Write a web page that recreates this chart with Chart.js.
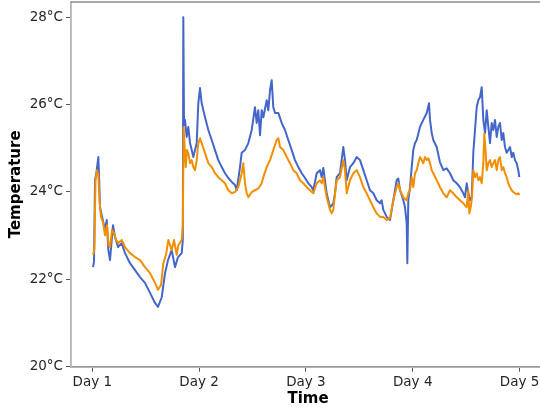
<!DOCTYPE html>
<html>
<head>
<meta charset="utf-8">
<script src="https://cdn.jsdelivr.net/npm/chart.js@4/dist/chart.umd.min.js"></script>
<style>
  html, body { margin: 0; padding: 0; background: #fff; }
  #wrap { width: 540px; height: 408px; overflow: hidden; position: relative; }
  #wrap canvas { position: absolute; left: 0; top: 0; }
</style>
</head>
<body>
<div id="wrap"><canvas id="chart" width="560" height="408"></canvas></div>
<script>
// Elapsed time in hours since the start of Day 1, with temperatures in °C
const blueHours = [0.16,0.38,0.61,0.94,1.35,1.51,1.73,2.11,2.47,2.85,3.24,3.60,3.98,4.36,4.65,5.10,5.78,6.61,7.35,8.47,9.60,10.72,11.84,12.97,14.09,14.76,15.60,16.34,17.01,17.84,18.58,19.26,20.09,20.34,20.45,20.61,20.83,21.21,21.57,21.96,22.34,22.70,23.08,23.46,23.82,24.20,24.58,25.33,26.07,26.83,27.57,28.31,29.08,29.82,30.56,31.33,32.07,32.45,33.19,33.57,34.31,35.06,35.82,36.56,36.94,37.30,37.69,38.07,38.43,39.19,39.55,39.93,40.31,40.67,41.06,41.80,42.56,43.30,44.04,44.81,45.55,46.29,47.06,47.80,48.54,49.30,49.66,50.43,51.17,51.55,51.91,52.67,53.03,53.42,54.16,54.54,54.92,55.66,56.40,56.79,57.17,57.91,58.65,59.42,60.16,60.90,61.66,62.40,63.15,63.91,64.65,65.03,65.39,66.16,66.90,67.64,68.40,68.76,69.15,69.89,70.27,70.65,70.79,71.01,71.39,71.78,72.13,72.52,72.90,73.64,74.38,75.15,75.66,75.89,76.27,76.63,77.39,78.13,78.88,79.64,80.38,81.12,81.89,82.63,83.37,83.75,84.13,84.49,84.88,85.26,85.62,86.00,86.38,86.74,87.12,87.51,87.69,87.87,88.25,88.63,89.00,89.37,89.75,90.11,90.49,90.88,91.24,91.62,92.00,92.36,92.74,93.12,93.48,93.87,94.25,94.61,94.99,95.37,95.73,95.96];
const blueTemps = [22.28,22.40,24.27,24.46,24.80,24.39,23.65,23.47,23.31,23.13,23.36,22.67,22.44,22.90,23.24,22.97,22.74,22.83,22.60,22.37,22.21,22.05,21.92,21.69,21.46,21.37,21.59,22.14,22.44,22.67,22.28,22.51,22.60,22.90,28.00,25.53,25.65,25.26,25.49,25.12,24.96,24.80,24.96,25.12,26.03,26.38,26.03,25.71,25.42,25.19,24.96,24.73,24.57,24.43,24.32,24.23,24.16,24.04,24.57,24.90,24.96,25.12,25.42,25.94,25.58,25.87,25.30,25.87,25.71,26.10,25.87,26.33,26.56,25.94,25.81,25.81,25.58,25.42,25.19,24.96,24.73,24.57,24.43,24.32,24.20,24.11,24.04,24.43,24.50,24.34,24.55,23.97,23.81,23.65,23.74,23.97,24.34,24.43,25.03,24.73,24.27,24.57,24.66,24.80,24.73,24.50,24.27,24.04,23.97,23.81,23.74,23.81,23.59,23.43,23.36,23.81,24.27,24.31,24.04,23.81,23.65,23.28,22.37,23.81,24.11,24.57,24.96,25.12,25.19,25.49,25.65,25.81,26.03,25.65,25.35,25.19,25.03,24.68,24.50,24.54,24.43,24.27,24.20,24.11,23.97,23.88,24.20,23.97,23.81,23.88,24.90,25.42,25.94,26.10,26.17,26.40,26.03,25.65,25.35,25.87,25.49,25.12,25.58,25.42,25.65,25.26,25.49,25.58,25.19,25.35,25.03,24.90,24.96,25.03,24.80,24.90,24.73,24.66,24.50,24.34];

const orangeHours = [0.16,0.45,0.72,1.06,1.35,1.62,1.96,2.40,2.85,3.30,3.64,3.98,4.43,4.88,5.33,5.84,6.61,7.35,8.47,9.60,10.72,11.84,12.97,14.09,14.76,15.44,15.96,16.56,17.08,17.84,18.36,18.97,19.33,20.09,20.34,20.52,20.99,21.28,21.57,21.96,22.34,22.70,23.08,23.46,23.82,24.20,24.58,25.33,26.07,26.83,27.57,28.31,29.08,29.82,30.56,31.33,32.07,32.81,33.57,33.93,34.31,34.70,35.06,35.82,36.56,37.30,38.07,38.43,39.19,39.93,40.67,41.44,41.80,42.18,42.92,43.69,44.43,45.17,45.93,46.67,47.42,48.18,48.92,49.66,50.43,51.17,51.55,51.91,52.67,53.42,53.80,54.16,54.54,54.92,55.66,56.40,56.79,57.17,57.91,58.65,59.42,60.16,60.90,61.66,62.40,63.15,63.91,64.65,65.39,66.16,66.90,67.64,68.40,68.76,69.15,69.89,70.65,71.01,71.39,71.78,72.13,72.52,72.90,73.26,73.64,74.02,74.38,74.76,75.15,75.51,75.89,76.27,76.63,77.39,78.13,78.88,79.64,80.38,81.12,81.89,82.63,83.37,84.13,84.49,84.72,85.04,85.33,85.62,86.00,86.38,86.74,87.12,87.51,87.87,88.09,88.40,88.63,89.00,89.37,89.75,90.11,90.49,90.88,91.24,91.62,92.00,92.36,92.74,93.12,93.48,93.87,94.25,94.61,94.99,95.37,95.73,95.96];
const orangeTemps = [22.56,22.67,24.27,24.50,24.39,23.81,23.43,23.31,23.01,23.24,22.78,22.74,23.13,23.06,22.90,22.83,22.90,22.74,22.60,22.51,22.44,22.28,22.14,21.92,21.76,21.87,22.37,22.56,22.90,22.67,22.90,22.56,22.78,22.90,23.24,25.48,24.57,24.96,24.89,24.66,24.73,24.57,24.50,24.73,25.12,25.23,25.12,24.89,24.66,24.57,24.43,24.34,24.27,24.20,24.04,23.97,24.00,24.11,24.43,24.66,24.20,23.97,23.88,24.00,24.04,24.08,24.20,24.34,24.57,24.73,24.96,25.19,25.23,25.03,24.96,24.80,24.66,24.50,24.43,24.27,24.20,24.11,24.04,23.97,24.20,24.27,24.20,24.34,23.88,23.59,23.51,23.59,23.97,24.27,24.34,24.73,24.50,23.97,24.27,24.43,24.50,24.34,24.11,23.97,23.81,23.65,23.51,23.43,23.43,23.36,23.40,23.81,24.11,24.20,24.04,23.88,23.81,23.97,24.04,24.34,24.11,24.43,24.50,24.66,24.80,24.73,24.66,24.80,24.73,24.77,24.66,24.50,24.43,24.27,24.11,23.97,23.88,24.04,23.97,23.88,23.81,23.74,23.65,24.04,23.51,23.65,23.88,24.50,24.34,24.43,24.27,24.34,24.20,24.66,25.34,24.89,24.50,24.66,24.73,24.57,24.66,24.73,24.50,24.73,24.80,24.50,24.57,24.43,24.34,24.20,24.11,24.04,24.00,23.97,23.95,23.97,23.93];

const dayHours = [0, 24, 48, 72, 96];
const dayLabels = ['Day 1', 'Day 2', 'Day 3', 'Day 4', 'Day 5'];
const tempTicks = [20, 22, 24, 26, 28];

const toPoints = (xs, ys) => xs.map((x, i) => ({ x, y: ys[i] }));

// Top frame line of the plot box
const topFrame = {
  id: 'topFrame',
  afterDraw(chart) {
    const { ctx, chartArea } = chart;
    ctx.save();
    ctx.strokeStyle = '#8c8c8c';
    ctx.lineWidth = 1.5;
    ctx.beginPath();
    ctx.moveTo(chartArea.left, chartArea.top);
    ctx.lineTo(chart.width, chartArea.top);
    ctx.stroke();
    ctx.restore();
  }
};

new Chart(document.getElementById('chart'), {
  type: 'line',
  data: {
    datasets: [
      {
        label: 'Sensor 1',
        data: toPoints(blueHours, blueTemps),
        borderColor: '#4466c8',
        borderWidth: 2,
        pointRadius: 0,
        tension: 0,
        borderJoinStyle: 'round',
        order: 2
      },
      {
        label: 'Sensor 2',
        data: toPoints(orangeHours, orangeTemps),
        borderColor: '#f28f00',
        borderWidth: 2,
        pointRadius: 0,
        tension: 0,
        borderJoinStyle: 'round',
        order: 1
      }
    ]
  },
  options: {
    responsive: false,
    animation: false,
    layout: { padding: { top: 2, right: 15, left: 0, bottom: 0 } },
    plugins: { legend: { display: false }, tooltip: { enabled: false } },
    scales: {
      x: {
        type: 'linear',
        min: -4.79,
        max: 101.73,
        afterBuildTicks: (s) => { s.ticks = dayHours.map(v => ({ value: v })); },
        afterFit: (s) => { s.height = 41.3; s.paddingLeft = 0; s.paddingRight = 0; },
        ticks: {
          autoSkip: false,
          maxRotation: 0,
          padding: 3,
          color: '#262626',
          font: { family: 'DejaVu Sans', size: 13.5 },
          callback: (v) => dayLabels[dayHours.indexOf(v)] ?? ''
        },
        grid: { drawOnChartArea: false, drawTicks: true, tickLength: 5, tickColor: '#555', tickWidth: 1 },
        border: { display: true, color: '#9a9a9a', width: 1.8 },
        title: {
          display: true,
          text: 'Time',
          color: '#000',
          font: { family: 'DejaVu Sans', size: 15, weight: 'bold', lineHeight: 1.2 },
          padding: { top: 0, bottom: 0 }
        }
      },
      y: {
        min: 20,
        max: 28.35,
        afterBuildTicks: (s) => { s.ticks = tempTicks.map(v => ({ value: v })); },
        afterFit: (s) => { s.width = 71; s.paddingTop = 0; s.paddingBottom = 0; },
        ticks: {
          padding: 3,
          color: '#262626',
          font: { family: 'DejaVu Sans', size: 13.5 },
          callback: (v) => v + '°C'
        },
        grid: { drawOnChartArea: false, drawTicks: true, tickLength: 5, tickColor: '#555', tickWidth: 1 },
        border: { display: true, color: '#b4b4b4', width: 1.8 },
        title: {
          display: true,
          text: 'Temperature',
          color: '#000',
          font: { family: 'DejaVu Sans', size: 15, weight: 'bold', lineHeight: 1.2 },
          padding: { top: 7, bottom: 0 }
        }
      }
    }
  },
  plugins: [topFrame]
});
</script>
</body>
</html>
